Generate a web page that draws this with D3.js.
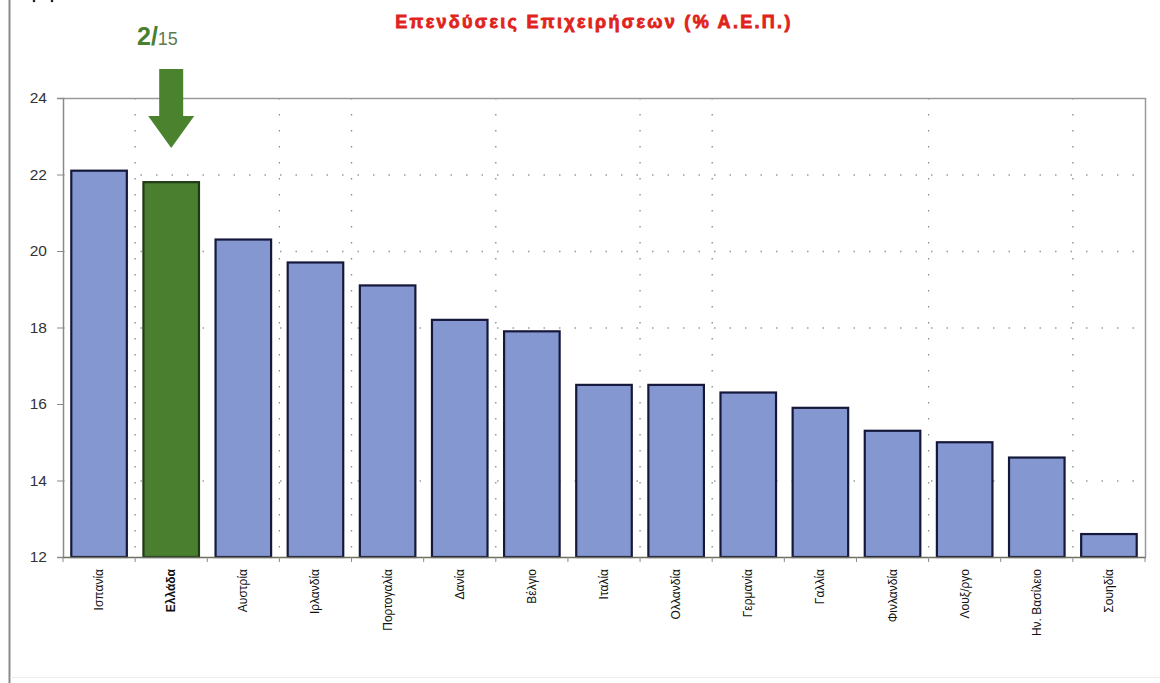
<!DOCTYPE html>
<html>
<head>
<meta charset="utf-8">
<script src="https://cdn.jsdelivr.net/npm/d3@7"></script>
<style>
  body { margin: 0; background: #fff; }
  text { font-family: Arial, "Liberation Sans", sans-serif; }
</style>
</head>
<body>
<div id="chart"></div>
<script>
//----------------------------------------------------------------
// données
var pays = ["Ισπανία", "Ελλάδα", "Αυστρία", "Ιρλανδία", "Πορτογαλία", "Δανία", "Βέλγιο",
            "Ιταλία", "Ολλανδία", "Γερμανία", "Γαλλία", "Φινλανδία", "Λουξ/ργο",
            "Ην. Βασίλειο", "Σουηδία"];
var valeurs = [22.1, 21.8, 20.3, 19.7, 19.1, 18.2, 17.9, 16.5, 16.5, 16.3, 15.9, 15.3, 15.0, 14.6, 12.6];
var ticksY = [12, 14, 16, 18, 20, 22, 24];
var grilleY = [14, 18, 20, 22];
var grilleX = [1, 3, 4, 6, 8, 9, 12, 14];   // limites entre catégories
var titre = "Επενδύσεις Επιχειρήσεων (% Α.Ε.Π.)";
var rang = "2/", total = "15";
var paysMisEnAvant = "Ελλάδα";

//----------------------------------------------------------------
// svg
var largeur = 1160, hauteur = 683;
var svg = d3.select("#chart").append("svg")
  .attr("width", largeur)
  .attr("height", hauteur);

var gauche = 63, droite = 1145, haut = 98, bas = 557;

var x = d3.scaleBand()
  .domain(pays)
  .range([gauche, droite])
  .paddingInner(0.23)
  .paddingOuter(0.115);

var y = d3.scaleLinear()
  .domain([12, 24])
  .range([bas, haut]);

var pas = (droite - gauche) / pays.length;

// cadre de la page
svg.append("line")
  .attr("x1", 9.5).attr("x2", 9.5).attr("y1", 0).attr("y2", hauteur)
  .attr("stroke", "#8a8a8a").attr("stroke-width", 2);
svg.append("line")
  .attr("x1", 10).attr("x2", largeur).attr("y1", 677.5).attr("y2", 677.5)
  .attr("stroke", "#ececec").attr("stroke-width", 1);
svg.selectAll(".pt").data([34, 52]).enter().append("circle")
  .attr("cx", function(d){ return d; }).attr("cy", 1).attr("r", 1.3).attr("fill", "#222");

// titre
svg.append("text")
  .attr("x", 594).attr("y", 28)
  .attr("text-anchor", "middle")
  .attr("font-size", "18px")
  .attr("font-weight", "bold")
  .attr("fill", "#e0231c")
  .attr("stroke", "#e0231c")
  .attr("stroke-width", 0.8)
  .attr("letter-spacing", "2.3px")
  .text(titre);

// grille
svg.selectAll(".grilleY").data(grilleY).enter().append("line")
  .attr("x1", gauche).attr("x2", droite)
  .attr("y1", function(d){ return y(d) + 0.5; })
  .attr("y2", function(d){ return y(d) + 0.5; })
  .attr("stroke", "#9a9a9a")
  .attr("stroke-width", 1.3)
  .attr("stroke-dasharray", "1.5,14");

svg.selectAll(".grilleX").data(grilleX).enter().append("line")
  .attr("x1", function(d){ return gauche + d * pas; })
  .attr("x2", function(d){ return gauche + d * pas; })
  .attr("y1", haut).attr("y2", bas)
  .attr("stroke", "#8a8a8a")
  .attr("stroke-width", 1.3)
  .attr("stroke-dasharray", "1.5,14.5");

// bordure haut / droite
svg.append("path")
  .attr("d", "M" + gauche + "," + (haut + 0.5) + "H" + (droite + 0.5) + "V" + bas)
  .attr("fill", "none")
  .attr("stroke", "#9a9a9a")
  .attr("stroke-width", 1.5);

// barres
svg.selectAll(".barre").data(pays).enter().append("rect")
  .attr("class", "barre")
  .attr("x", function(d){ return x(d); })
  .attr("width", x.bandwidth())
  .attr("y", function(d, i){ return y(valeurs[i]); })
  .attr("height", function(d, i){ return y(12) - y(valeurs[i]); })
  .attr("fill", function(d){ return d == paysMisEnAvant ? "#4a7f30" : "#8497d0"; })
  .attr("stroke", function(d){ return d == paysMisEnAvant ? "#1f3a14" : "#15183a"; })
  .attr("stroke-width", 2.2);

// axe Y
var axeY = svg.append("g")
  .attr("transform", "translate(" + gauche + ",0)")
  .call(d3.axisLeft(y).tickValues(ticksY).tickSize(6).tickPadding(10));
axeY.select(".domain").attr("stroke", "#8a8a8a").attr("stroke-width", 1.5);
axeY.selectAll(".tick line").attr("stroke", "#8a8a8a");
axeY.selectAll(".tick text")
  .attr("font-size", "15.5px")
  .attr("fill", "#333")
  .attr("font-family", "Arial, 'Liberation Sans', sans-serif");

// axe X
svg.append("line")
  .attr("x1", gauche).attr("x2", droite + 1)
  .attr("y1", bas + 0.5).attr("y2", bas + 0.5)
  .attr("stroke", "#6d7060").attr("stroke-width", 1.5);
svg.selectAll(".tickX").data(d3.range(pays.length + 1)).enter().append("line")
  .attr("x1", function(d){ return gauche + d * pas; })
  .attr("x2", function(d){ return gauche + d * pas; })
  .attr("y1", bas).attr("y2", bas + 5)
  .attr("stroke", "#8a8a8a");

svg.selectAll(".etiquette").data(pays).enter().append("text")
  .attr("transform", function(d){
    return "translate(" + (x(d) + x.bandwidth() / 2 + 4) + "," + 569 + ") rotate(-90)";
  })
  .attr("text-anchor", "end")
  .attr("font-size", "12px")
  .attr("fill", "#111")
  .attr("font-weight", function(d){ return d == paysMisEnAvant ? "bold" : "normal"; })
  .text(function(d){ return d; });

// flèche 2/15
var cx = x(paysMisEnAvant) + x.bandwidth() / 2;
var rangTexte = svg.append("text")
  .attr("x", 137).attr("y", 45)
  .attr("fill", "#4a7f30");
rangTexte.append("tspan")
  .attr("font-size", "25px").attr("font-weight", "bold")
  .text(rang);
rangTexte.append("tspan")
  .attr("font-size", "18px").attr("fill", "#5d7a52")
  .text(total);

svg.append("path")
  .attr("d", "M" + (cx - 12) + ",69 H" + (cx + 12) + " V116 H" + (cx + 23) +
             " L" + cx + ",148 L" + (cx - 23) + ",116 H" + (cx - 12) + " Z")
  .attr("fill", "#4a822e");
</script>
</body>
</html>
